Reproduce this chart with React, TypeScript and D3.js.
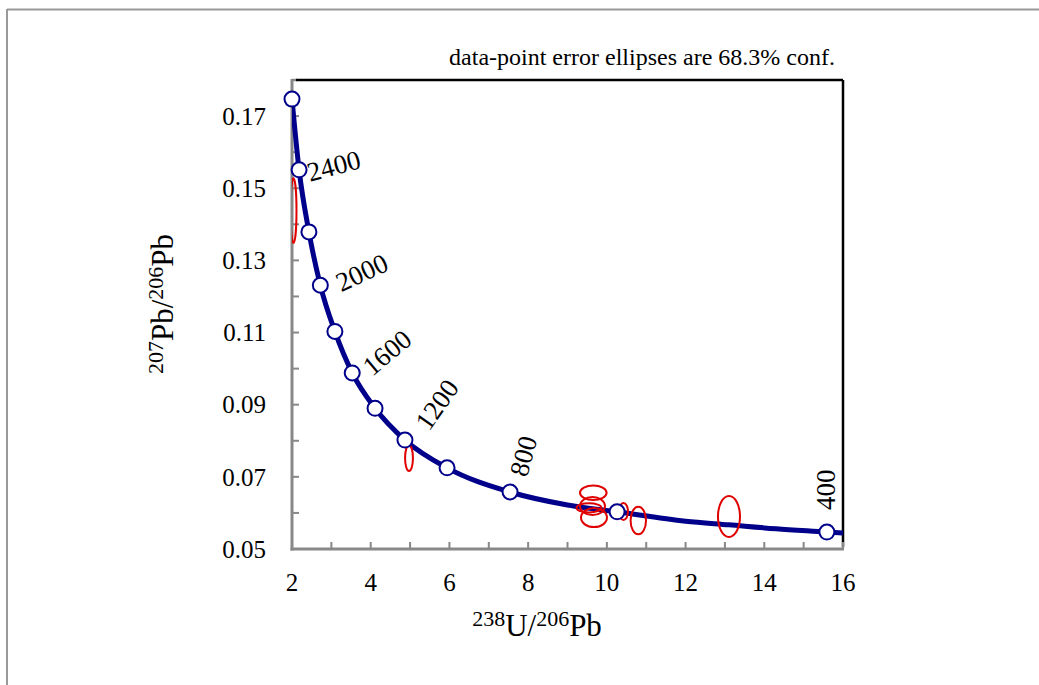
import React from "react";
import * as d3 from "d3";

// ---- data ----
const markerAges = [2600, 2400, 2200, 2000, 1800, 1600, 1400, 1200, 1000, 800, 600, 400];
const markerX = [2.0, 2.18, 2.43, 2.72, 3.09, 3.53, 4.11, 4.87, 5.94, 7.54, 10.26, 15.59];
const markerY = [0.1747, 0.1551, 0.1379, 0.1231, 0.1103, 0.0988, 0.089, 0.0802, 0.0725, 0.0658, 0.0603, 0.0547];

// extra points read along the concordia line between markers
const lineExtraX = [9.0, 12.0, 13.1, 14.3, 16.0];
const lineExtraY = [0.0622, 0.0577, 0.0567, 0.0556, 0.0544];

// error ellipses (centre and half-axes, data units)
const ellX = [2.038, 4.973, 9.655, 9.546, 9.635, 9.673, 10.423, 10.799, 13.103];
const ellY = [0.1438, 0.0752, 0.0656, 0.0614, 0.0619, 0.0587, 0.0604, 0.0579, 0.059];
const ellRx = [0.076, 0.1, 0.338, 0.318, 0.318, 0.33, 0.114, 0.196, 0.28];
const ellRy = [0.009, 0.0036, 0.002, 0.00125, 0.0025, 0.00263, 0.00236, 0.00383, 0.00568];

const labelAges = [2400, 2000, 1600, 1200, 800, 400];

const xTicks = d3.range(2, 17, 1);
const xTickLabels = [2, 4, 6, 8, 10, 12, 14, 16];
const yTicks = d3.range(0, 13).map((i) => +(0.05 + i * 0.01).toFixed(2));
const yTickLabels = [0.05, 0.07, 0.09, 0.11, 0.13, 0.15, 0.17];

const title = "data-point error ellipses are 68.3% conf.";

// ---- style / layout ----
const W = 1039;
const H = 685;
const M = { left: 292, right: 843, top: 80, bottom: 549 };
const labelStyle: Record<number, { dx: number; dy: number; rot: number }> = {
  2400: { dx: 11, dy: 12, rot: -15 },
  2000: { dx: 21, dy: 7, rot: -25 },
  1600: { dx: 20, dy: 4, rot: -40 },
  1200: { dx: 24, dy: -8, rot: -55 },
  800: { dx: 17, dy: -14, rot: -75 },
  400: { dx: 8, dy: -22, rot: -90 },
};
const FONT = '"Liberation Serif", Tinos, "Times New Roman", "DejaVu Serif", serif';
const NAVY = "#00008B";
const RED = "#E00000";

export default function App() {
  const x = d3.scaleLinear().domain([2, 16]).range([M.left, M.right]);
  const y = d3.scaleLinear().domain([0.05, 0.18]).range([M.bottom, M.top]);

  const pts: [number, number][] = markerX
    .map((v, i) => [v, markerY[i]] as [number, number])
    .concat(lineExtraX.map((v, i) => [v, lineExtraY[i]] as [number, number]))
    .sort((a, b) => a[0] - b[0]);
  const line = d3
    .line<[number, number]>()
    .x((d) => x(d[0]))
    .y((d) => y(d[1]))
    .curve(d3.curveMonotoneX);

  return (
    <svg width={W} height={H} style={{ position: "absolute", left: 0, top: 0, fontFamily: FONT }}>
      <rect x={0} y={0} width={W} height={H} fill="#fff" />
      {/* outer frame */}
      <line x1={7} y1={9.5} x2={W} y2={9.5} stroke="#999" strokeWidth={2} />
      <line x1={7} y1={9} x2={7} y2={H} stroke="#999" strokeWidth={2} />

      <text x={642} y={65} fontSize={24} textAnchor="middle" fill="#000">
        {title}
      </text>

      <defs>
        <clipPath id="plotclip">
          <rect x={M.left} y={M.top} width={M.right - M.left} height={M.bottom - M.top} />
        </clipPath>
      </defs>

      {/* axes frame */}
      <line x1={M.left} y1={M.top} x2={M.left + 5} y2={M.top} stroke="#888" strokeWidth={2.5} />
      <line x1={M.left + 4} y1={M.top} x2={M.right} y2={M.top} stroke="#000" strokeWidth={2.5} />
      <line x1={M.right} y1={M.top} x2={M.right} y2={M.bottom - 2} stroke="#000" strokeWidth={2.5} />
      <line x1={M.left} y1={M.top - 1} x2={M.left} y2={M.bottom + 1.5} stroke="#888" strokeWidth={3} />
      <line x1={M.left - 1.5} y1={M.bottom} x2={M.right + 1} y2={M.bottom} stroke="#888" strokeWidth={3} />

      {xTicks.map((t) => (
        <line key={"xt" + t} x1={x(t)} x2={x(t)} y1={M.bottom} y2={M.bottom - 7} stroke="#888" strokeWidth={2} />
      ))}
      {yTicks.map((t) => (
        <line key={"yt" + t} x1={M.left} x2={M.left + 7} y1={y(t)} y2={y(t)} stroke="#888" strokeWidth={2} />
      ))}
      {xTickLabels.map((t) => (
        <text key={"xl" + t} x={x(t)} y={591} fontSize={25} textAnchor="middle" fill="#000">
          {t}
        </text>
      ))}
      {yTickLabels.map((t) => (
        <text key={"yl" + t} x={266} y={y(t)} dy="0.35em" fontSize={25} textAnchor="end" fill="#000">
          {t.toFixed(2)}
        </text>
      ))}

      {/* axis titles */}
      <text x={537} y={636} fontSize={31} textAnchor="middle" fill="#000">
        <tspan fontSize={22} dy={-10}>238</tspan>
        <tspan dy={10}>U/</tspan>
        <tspan fontSize={22} dy={-10}>206</tspan>
        <tspan dy={10}>Pb</tspan>
      </text>
      <text transform={`translate(173,304) rotate(-90)`} fontSize={31} textAnchor="middle" fill="#000">
        <tspan fontSize={22} dy={-10}>207</tspan>
        <tspan dy={10}>Pb/</tspan>
        <tspan fontSize={22} dy={-10}>206</tspan>
        <tspan dy={10}>Pb</tspan>
      </text>

      <g clipPath="url(#plotclip)">
        <path d={line(pts) || ""} fill="none" stroke={NAVY} strokeWidth={5} />
        {ellX.map((v, i) => (
          <ellipse
            key={"e" + i}
            cx={x(v)}
            cy={y(ellY[i])}
            rx={x(v + ellRx[i]) - x(v)}
            ry={y(ellY[i]) - y(ellY[i] + ellRy[i])}
            fill="none"
            stroke={RED}
            strokeWidth={2}
          />
        ))}
      </g>
      {markerX.map((v, i) => (
        <circle key={"c" + i} cx={x(v)} cy={y(markerY[i])} r={7.5} fill="#fff" stroke={NAVY} strokeWidth={2} />
      ))}
      {labelAges.map((a) => {
        const i = markerAges.indexOf(a);
        const s = labelStyle[a];
        const px = x(markerX[i]) + s.dx;
        const py = y(markerY[i]) + s.dy;
        return (
          <text key={"l" + a} transform={`translate(${px},${py}) rotate(${s.rot})`} fontSize={27} fill="#000">
            {a}
          </text>
        );
      })}
    </svg>
  );
}
